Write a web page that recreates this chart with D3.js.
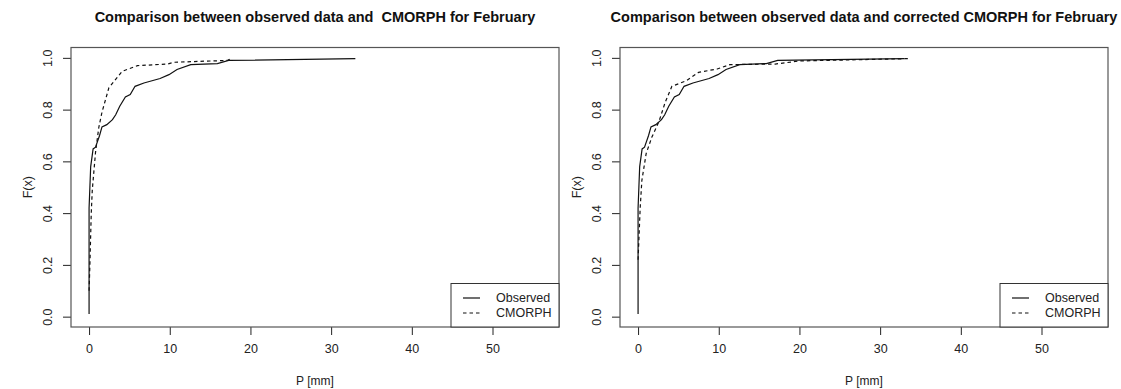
<!DOCTYPE html>
<html>
<head>
<meta charset="utf-8">
<script src="https://cdn.jsdelivr.net/npm/d3@7"></script>
<style>
  body { margin: 0; background: #fff; }
  svg { display: block; font-family: "Liberation Sans", Arial, sans-serif; }
</style>
</head>
<body>
<svg id="chart" width="1121" height="389"></svg>
<script>
// observed precipitation ECDF (same in both panels)
var obsP = [0, 0, 0.1, 0.2, 0.5, 0.8, 1.3, 1.6, 2.2, 2.9, 3.3, 3.8, 4.5, 5.1, 5.7, 6.8, 8.8, 9.9, 10.9, 12.6, 15.9, 17.3, 33];
var obsF = [0.01, 0.42, 0.5, 0.58, 0.648, 0.655, 0.70, 0.733, 0.742, 0.761, 0.78, 0.813, 0.849, 0.858, 0.89, 0.903, 0.92, 0.935, 0.955, 0.974, 0.978, 0.99, 0.997];
// raw CMORPH
var cmP = [0, 0.1, 0.27, 0.4, 0.8, 1.2, 1.6, 2.45, 4.1, 6.0, 9.7, 10.5, 17.1, 17.6];
var cmF = [0.1, 0.2, 0.4, 0.49, 0.635, 0.73, 0.79, 0.884, 0.948, 0.97, 0.976, 0.983, 0.99, 0.997];
// corrected CMORPH
var ccP = [0, 0.26, 0.47, 1.0, 1.7, 2.6, 3.36, 4.19, 6.0, 7.5, 9.8, 11.4, 17.0, 20, 33.5];
var ccF = [0.22, 0.42, 0.526, 0.63, 0.693, 0.755, 0.828, 0.89, 0.912, 0.944, 0.957, 0.974, 0.976, 0.988, 0.997];

var xTicks = [0, 10, 20, 30, 40, 50];
var yTicks = [0, 0.2, 0.4, 0.6, 0.8, 1.0];
var legendNames = ["Observed", "CMORPH"];
var titles = ["Comparison between observed data and  CMORPH for February",
              "Comparison between observed data and corrected CMORPH for February"];

var svg = d3.select("#chart");

function toPts(px, fx){ return px.map((d, i) => ({x: d, y: fx[i]})); }

function drawPanel(dx, title, simP, simF){
  var left = 71 + dx, right = 559 + dx, top = 47.5, bottom = 327;
  var x = d3.scaleLinear().domain([-2.24, 58.24]).range([left, right]);
  var y = d3.scaleLinear().domain([-0.04, 1.04]).range([bottom, top]);
  var g = svg.append("g");

  var line = d3.line().x(d => x(d.x)).y(d => y(d.y));

  // title
  g.append("text").attr("x", (left + right) / 2).attr("y", 22)
    .attr("text-anchor", "middle").attr("font-weight", "bold")
    .attr("font-size", "14.5px").attr("fill", "#111")
    .style("white-space", "pre").text(title);

  // x axis
  var xa = g.append("g").attr("transform", "translate(0," + bottom + ")")
    .call(d3.axisBottom(x).tickValues(xTicks).tickSize(8).tickPadding(9).tickFormat(d3.format("d")));
  xa.select(".domain").remove();
  xa.selectAll("line").attr("stroke", "#222");
  xa.selectAll("text").attr("font-size", "12.5px").attr("fill", "#222").attr("font-family", "Liberation Sans, Arial, sans-serif");

  // y axis
  var ya = g.append("g").attr("transform", "translate(" + left + ",0)")
    .call(d3.axisLeft(y).tickValues(yTicks).tickSize(8).tickFormat(d3.format(".1f")));
  ya.select(".domain").remove();
  ya.selectAll("line").attr("stroke", "#222");
  ya.selectAll("text").remove();
  ya.selectAll(".tick").append("text")
    .attr("transform", "translate(-19,0) rotate(-90)")
    .attr("text-anchor", "middle").attr("font-size", "12.5px").attr("fill", "#222")
    .attr("font-family", "Liberation Sans, Arial, sans-serif")
    .text(d => d3.format(".1f")(d));

  // axis titles
  g.append("text").attr("x", (left + right) / 2).attr("y", 385)
    .attr("text-anchor", "middle").attr("font-size", "12px").attr("fill", "#222").text("P [mm]");
  g.append("text").attr("transform", "translate(" + (dx + 32) + "," + ((top + bottom) / 2) + ") rotate(-90)")
    .attr("text-anchor", "middle").attr("font-size", "12.5px").attr("fill", "#222").text("F(x)");

  // curves
  g.append("path").datum(toPts(obsP, obsF)).attr("d", line)
    .attr("fill", "none").attr("stroke", "#111").attr("stroke-width", 1.2);
  g.append("path").datum(toPts(simP, simF)).attr("d", line)
    .attr("fill", "none").attr("stroke", "#111").attr("stroke-width", 1.2)
    .attr("stroke-dasharray", "3.5,3");

  // box
  g.append("rect").attr("x", left).attr("y", top)
    .attr("width", right - left).attr("height", bottom - top)
    .attr("fill", "none").attr("stroke", "#555").attr("stroke-width", 1.2);

  // legend
  var lx = right - 108, ly = 283.5;
  g.append("rect").attr("x", lx).attr("y", ly).attr("width", right - lx).attr("height", bottom - ly)
    .attr("fill", "#fff").attr("stroke", "#333").attr("stroke-width", 1);
  legendNames.forEach(function(name, i){
    var yy = ly + 14.5 + i * 15;
    g.append("line").attr("x1", lx + 12).attr("x2", lx + 29).attr("y1", yy).attr("y2", yy)
      .attr("stroke", "#111").attr("stroke-width", 1.2)
      .attr("stroke-dasharray", i == 1 ? "3.5,3" : null);
    g.append("text").attr("x", lx + 45).attr("y", yy + 4.3)
      .attr("font-size", "12.5px").attr("fill", "#222").text(name);
  });
}

drawPanel(0, titles[0], cmP, cmF);
drawPanel(549, titles[1], ccP, ccF);
</script>
</body>
</html>
